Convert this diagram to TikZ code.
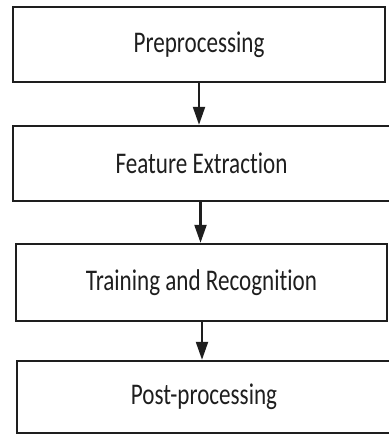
\documentclass[tikz,border=0pt]{standalone}
\usepackage{fontspec}
\setmainfont{Carlito}[FakeStretch=0.77,Ligatures=NoCommon]
\usetikzlibrary{arrows.meta}
\definecolor{ink}{RGB}{30,30,30}
\begin{document}
\begin{tikzpicture}[x=1pt,y=-1pt,
  stagebox/.style={draw=ink, line width=2.4pt, inner sep=0pt, text=ink,
    font=\fontsize{30}{34}\selectfont},
  flowarrow/.style={draw=ink, line width=2.2pt, -{Triangle[width=12pt,length=18pt]}}]
\useasboundingbox (0,0) rectangle (388,435);
\node[stagebox, minimum width=372pt, minimum height=75pt] (b1) at (199,44.5) {Preprocessing};
\node[stagebox, minimum width=377pt, minimum height=75pt] (b2) at (201.5,163.5) {Feature Extraction};
\node[stagebox, minimum width=371pt, minimum height=77pt] (b3) at (201.5,282.5) {Training and Recognition};
\node[stagebox, minimum width=374pt, minimum height=72pt] (b4) at (204,397) {Post-processing};
\draw[flowarrow] (b1.south) -- (b1.south |- b2.north);
\draw[flowarrow] ([xshift=-1pt]b2.south) -- ([xshift=-1pt]b2.south |- b3.north);
\draw[flowarrow] ([xshift=0.5pt]b3.south) -- ([xshift=0.5pt]b3.south |- b4.north);
\end{tikzpicture}
\end{document}
